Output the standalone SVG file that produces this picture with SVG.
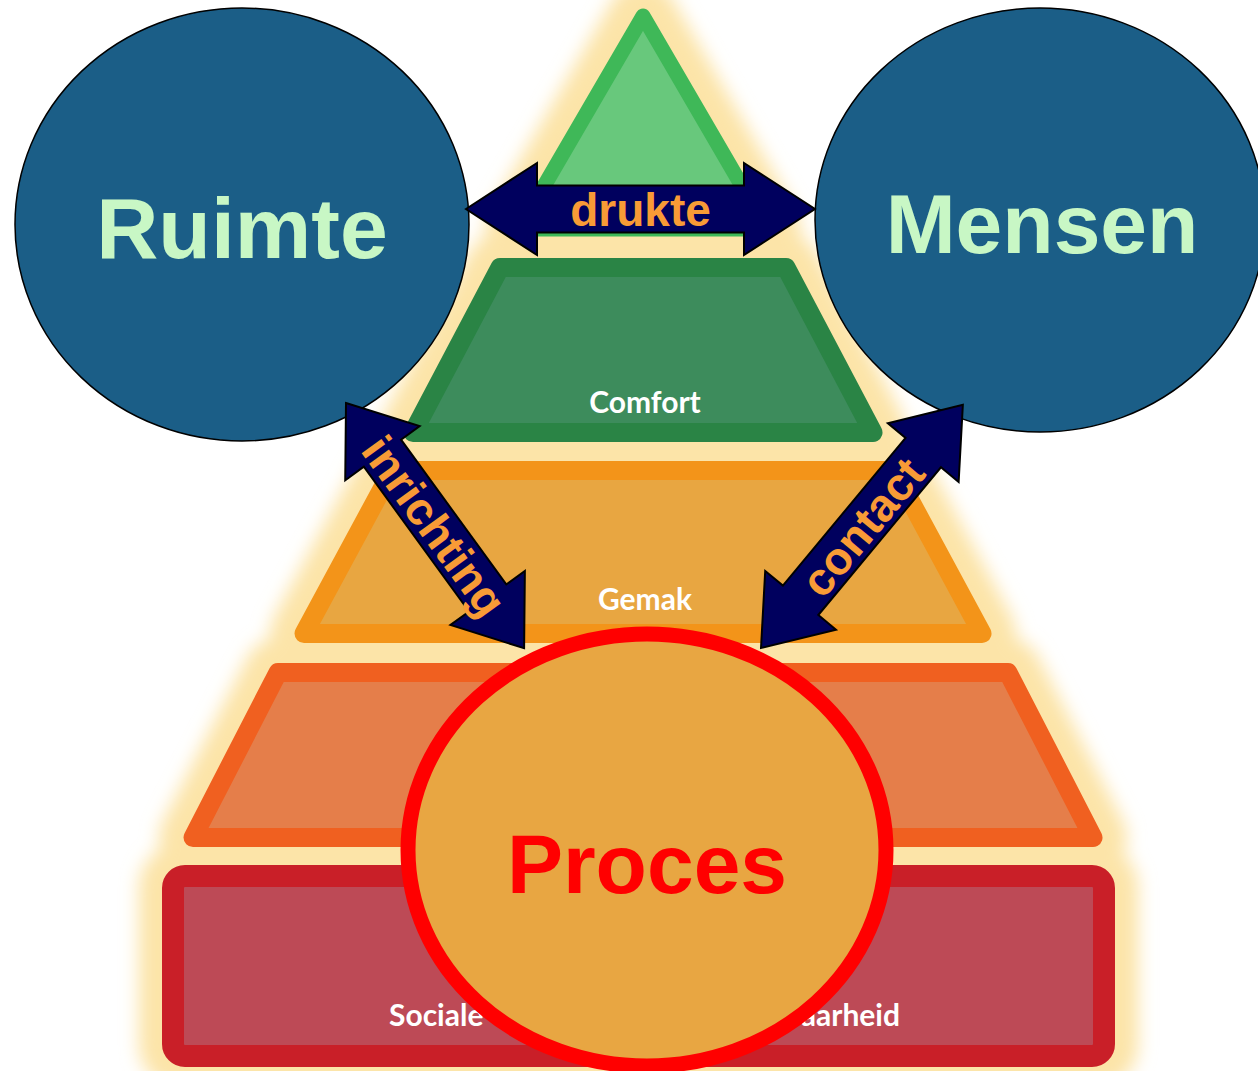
<svg xmlns="http://www.w3.org/2000/svg" width="1258" height="1071" viewBox="0 0 1258 1071">
<defs>
<style>
.glow{fill:#fce4a8;stroke:#fce4a8;stroke-width:68;stroke-linejoin:round}
.tier{stroke-linejoin:round}
.lbl{font-family:Lato,"Open Sans",sans-serif;font-weight:700;font-size:30px;fill:#ffffff;text-anchor:middle}
.big{font-family:"Liberation Sans",Arial,sans-serif;font-weight:700;text-anchor:middle}
.arrow{fill:#00005e;stroke:#000000;stroke-width:2;stroke-linejoin:miter}
.alb{font-family:"Liberation Sans",Arial,sans-serif;font-weight:700;font-size:46px;fill:#f89b36;text-anchor:middle}
.circ{fill:#1b5e87;stroke:#000000;stroke-width:1.5}
</style>
<filter id="blur" x="-20%" y="-20%" width="140%" height="140%">
<feGaussianBlur stdDeviation="9"/>
</filter>
</defs>
<rect width="1258" height="1071" fill="#ffffff"/>
<g id="glow" filter="url(#blur)">
<polygon class="glow" points="643,16 767,229 519,229"/>
<polygon class="glow" points="500,267.5 786,267.5 873,432.5 413,432.5"/>
<polygon class="glow" points="392,470.5 894,470.5 982,633.5 304,633.5"/>
<polygon class="glow" points="278,672.5 1008,672.5 1093,837.5 193,837.5"/>
<rect class="glow" x="173" y="876" width="931" height="180" rx="12"/>
</g>
<g id="tier-top">
<polygon class="tier" points="643,16 767,229 519,229" fill="#68c87c" stroke="#3fb858" stroke-width="15"/>
</g>
<g id="tier-comfort">
<polygon class="tier" points="500,267.5 786,267.5 873,432.5 413,432.5" fill="#3d8c5c" stroke="#2a8445" stroke-width="19"/>
<text class="lbl" x="645" y="413">Comfort</text>
</g>
<g id="tier-gemak">
<polygon class="tier" points="392,470.5 894,470.5 982,633.5 304,633.5" fill="#e8a641" stroke="#f39419" stroke-width="19"/>
<text class="lbl" x="645" y="610">Gemak</text>
</g>
<g id="tier-4">
<polygon class="tier" points="278,672.5 1008,672.5 1093,837.5 193,837.5" fill="#e57e4a" stroke="#f06020" stroke-width="19"/>
</g>
<g id="tier-5">
<rect x="173" y="876" width="931" height="180" rx="12" fill="#bd4a56" stroke="#c91f28" stroke-width="22"/>
<text class="lbl" x="389" y="1026" style="text-anchor:start">Sociale</text>
<text class="lbl" x="900" y="1026" style="text-anchor:end">aarheid</text>
</g>
<g id="ruimte">
<ellipse class="circ" cx="242" cy="224.5" rx="227" ry="216.5"/>
<text class="big" x="242" y="258" font-size="86" fill="#c8f7c5">Ruimte</text>
</g>
<g id="mensen">
<ellipse class="circ" cx="1040" cy="220" rx="225" ry="212"/>
<text class="big" x="1042" y="253" font-size="84" fill="#c8f7c5">Mensen</text>
</g>
<g id="proces">
<ellipse cx="647" cy="850" rx="239" ry="216" fill="#e8a642" stroke="#ff0000" stroke-width="15"/>
<text class="big" x="647" y="893" font-size="84" fill="#ff0000">Proces</text>
</g>
<g id="connectors">
<g transform="translate(466,209)">
<path class="arrow" d="M0,0 L71,-46 L71,-23.5 L278,-23.5 L278,-46 L349,0 L278,46 L278,23.5 L71,23.5 L71,46 Z"/>
<text class="alb" x="174.5" y="17">drukte</text>
</g>
<g transform="translate(346,403) rotate(54)">
<path class="arrow" d="M0,0 L62,-46 L62,-23 L241,-23 L241,-46 L303,0 L241,46 L241,23 L62,23 L62,46 Z"/>
<text class="alb" x="151.5" y="17">inrichting</text>
</g>
<g transform="translate(761,648) rotate(-50.3)">
<path class="arrow" d="M0,0 L62,-46 L62,-23 L254,-23 L254,-46 L316,0 L254,46 L254,23 L62,23 L62,46 Z"/>
<text class="alb" x="158" y="17">contact</text>
</g>
</g>
</svg>
